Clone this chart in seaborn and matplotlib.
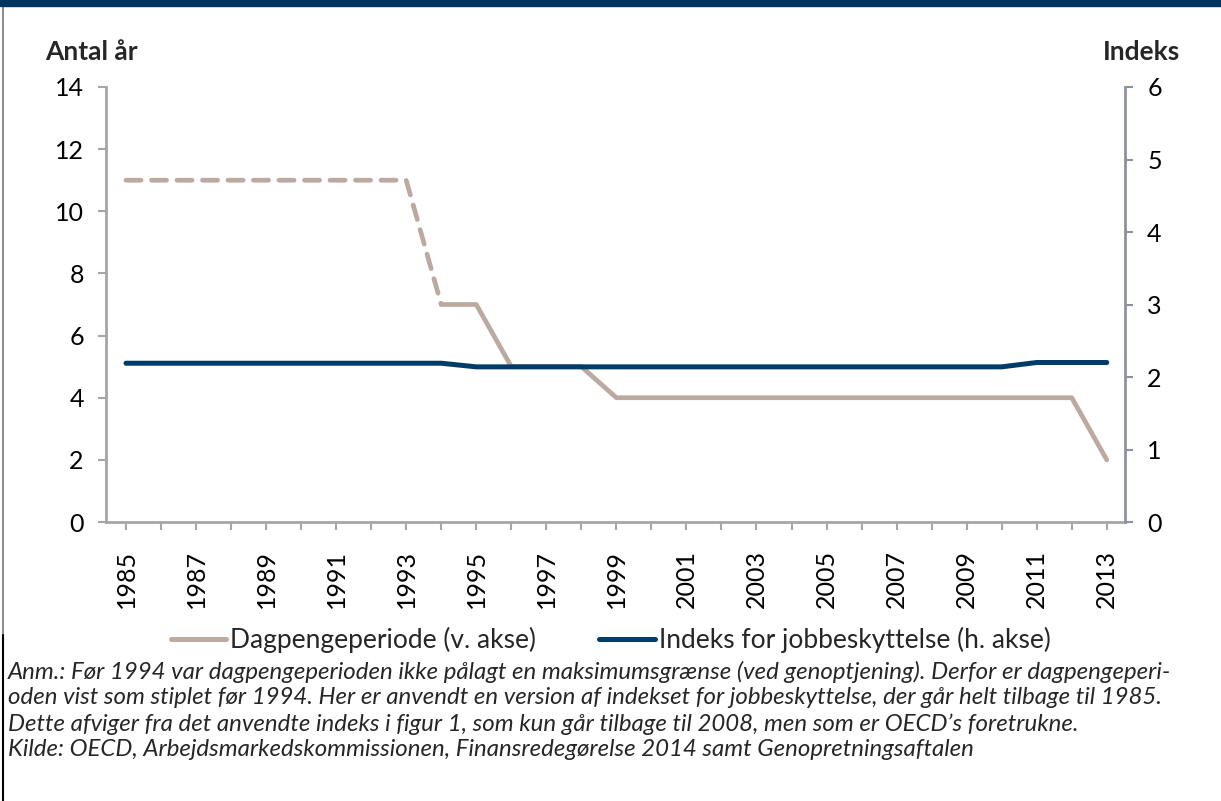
import matplotlib
matplotlib.use("Agg")
import matplotlib.pyplot as plt
import seaborn as sns
import pandas as pd
from matplotlib.lines import Line2D
from matplotlib.patches import Rectangle

sns.set_theme(style="white")
plt.rcParams['font.family'] = ['Lato', 'DejaVu Sans']

# ---- data ----
years = list(range(1985, 2014))
dagpenge = [11, 11, 11, 11, 11, 11, 11, 11, 11, 7, 7, 5, 5, 5,
            4, 4, 4, 4, 4, 4, 4, 4, 4, 4, 4, 4, 4, 4, 2]
indeks = [2.19, 2.19, 2.19, 2.19, 2.19, 2.19, 2.19, 2.19, 2.19, 2.19,
          2.14, 2.14, 2.14, 2.14, 2.14, 2.14, 2.14, 2.14, 2.14, 2.14,
          2.14, 2.14, 2.14, 2.14, 2.14, 2.14, 2.20, 2.20, 2.20]
dashed_until = 1994
tick_years = list(range(1985, 2014, 2))
left_ticks = [0, 2, 4, 6, 8, 10, 12, 14]
right_ticks = [0, 1, 2, 3, 4, 5, 6]
legend_labels = ["Dagpengeperiode (v. akse)", "Indeks for jobbeskyttelse (h. akse)"]
note_lines = [
    "Anm.: Før 1994 var dagpengeperioden ikke pålagt en maksimumsgrænse (ved genoptjening). Derfor er dagpengeperi-",
    "oden vist som stiplet før 1994. Her er anvendt en version af indekset for jobbeskyttelse, der går helt tilbage til 1985.",
    "Dette afviger fra det anvendte indeks i figur 1, som kun går tilbage til 2008, men som er OECD’s foretrukne.",
    "Kilde: OECD, Arbejdsmarkedskommissionen, Finansredegørelse 2014 samt Genopretningsaftalen",
]

df = pd.DataFrame({"year": years, "dagpenge": dagpenge, "indeks": indeks})
df_dash = df[df.year <= dashed_until]
df_solid = df[df.year >= dashed_until]

TAN = "#BCA99F"
BLUE = "#003C69"
AXC = "#A6A6A6"

fig = plt.figure(figsize=(12.21, 8.01), dpi=100)
ax = fig.add_axes([106/1221, 1-522/801, (1125-106)/1221, (522-87)/801])
ax2 = ax.twinx()

sns.lineplot(data=df_dash, x="year", y="dagpenge", ax=ax, color=TAN, linewidth=3.4,
             linestyle=(0, (3.2, 2.2)), dash_capstyle="round", solid_capstyle="round")
sns.lineplot(data=df_solid, x="year", y="dagpenge", ax=ax, color=TAN, linewidth=3.4,
             solid_capstyle="round")
sns.lineplot(data=df, x="year", y="indeks", ax=ax2, color=BLUE, linewidth=3.6,
             solid_capstyle="round")

ax.set_xlim(1984.43, 2013.52)
ax.set_ylim(0, 14)
ax2.set_ylim(0, 6)
ax.set_yticks(left_ticks)
ax2.set_yticks(right_ticks)
ax.set_xticks(years, minor=True)
ax.set_xticks(tick_years)
ax.set_xticklabels([str(y) for y in tick_years], rotation=90)

for a in (ax, ax2):
    a.set_xlabel("")
    a.set_ylabel("")
    for s in a.spines.values():
        s.set_visible(False)
ax.spines['left'].set_visible(True)
ax.spines['bottom'].set_visible(True)
ax2.spines['right'].set_visible(True)
ax.spines['left'].set_color(AXC)
ax.spines['bottom'].set_color(AXC)
ax2.spines['right'].set_color("#8C929E")
for s in (ax.spines['left'], ax.spines['bottom'], ax2.spines['right']):
    s.set_linewidth(2)

ax.tick_params(axis='y', which='both', left=True, length=6, width=1.5, color=AXC,
               labelsize=18, pad=10, labelcolor="black")
ax.tick_params(axis='x', which='both', bottom=True, length=6, width=1.5, color=AXC,
               labelsize=18, pad=14, labelcolor="black")
ax2.tick_params(axis='y', right=True, length=6, width=1.5, color="#8C929E",
                labelsize=18, pad=10, labelcolor="black")
ax.grid(False)
ax2.grid(False)

fig.text(45/1221, 1-52/801, "Antal år", fontsize=19, fontweight="bold", va="center", ha="left")
fig.text(1180/1221, 1-52/801, "Indeks", fontsize=19, fontweight="bold", va="center", ha="right")

handles = [Line2D([0], [0], color=TAN, lw=3.6, solid_capstyle="round"),
           Line2D([0], [0], color=BLUE, lw=3.6, solid_capstyle="round")]
fig.legend(handles, legend_labels, loc="center", bbox_to_anchor=(0.5, 1-640/801), ncol=2,
           frameon=False, fontsize=19, handlelength=2.1, handletextpad=0.15, columnspacing=2.4)

for i, line in enumerate(note_lines):
    fig.text(8/1221, 1-(672+26*i)/801, line, fontsize=17.3, style="italic", va="center", ha="left")

# top banner and left border
fig.add_artist(Rectangle((0, 1-6/801), 1, 6/801, transform=fig.transFigure, color="#00355F", zorder=5))
fig.add_artist(Line2D([3/1221, 3/1221], [1-635/801, 1-6/801], transform=fig.transFigure, color="#8F8F8F", lw=1.5))
fig.add_artist(Line2D([3/1221, 3/1221], [0, 1-635/801], transform=fig.transFigure, color="black", lw=1.5))

fig.savefig("out.png", dpi=100)
